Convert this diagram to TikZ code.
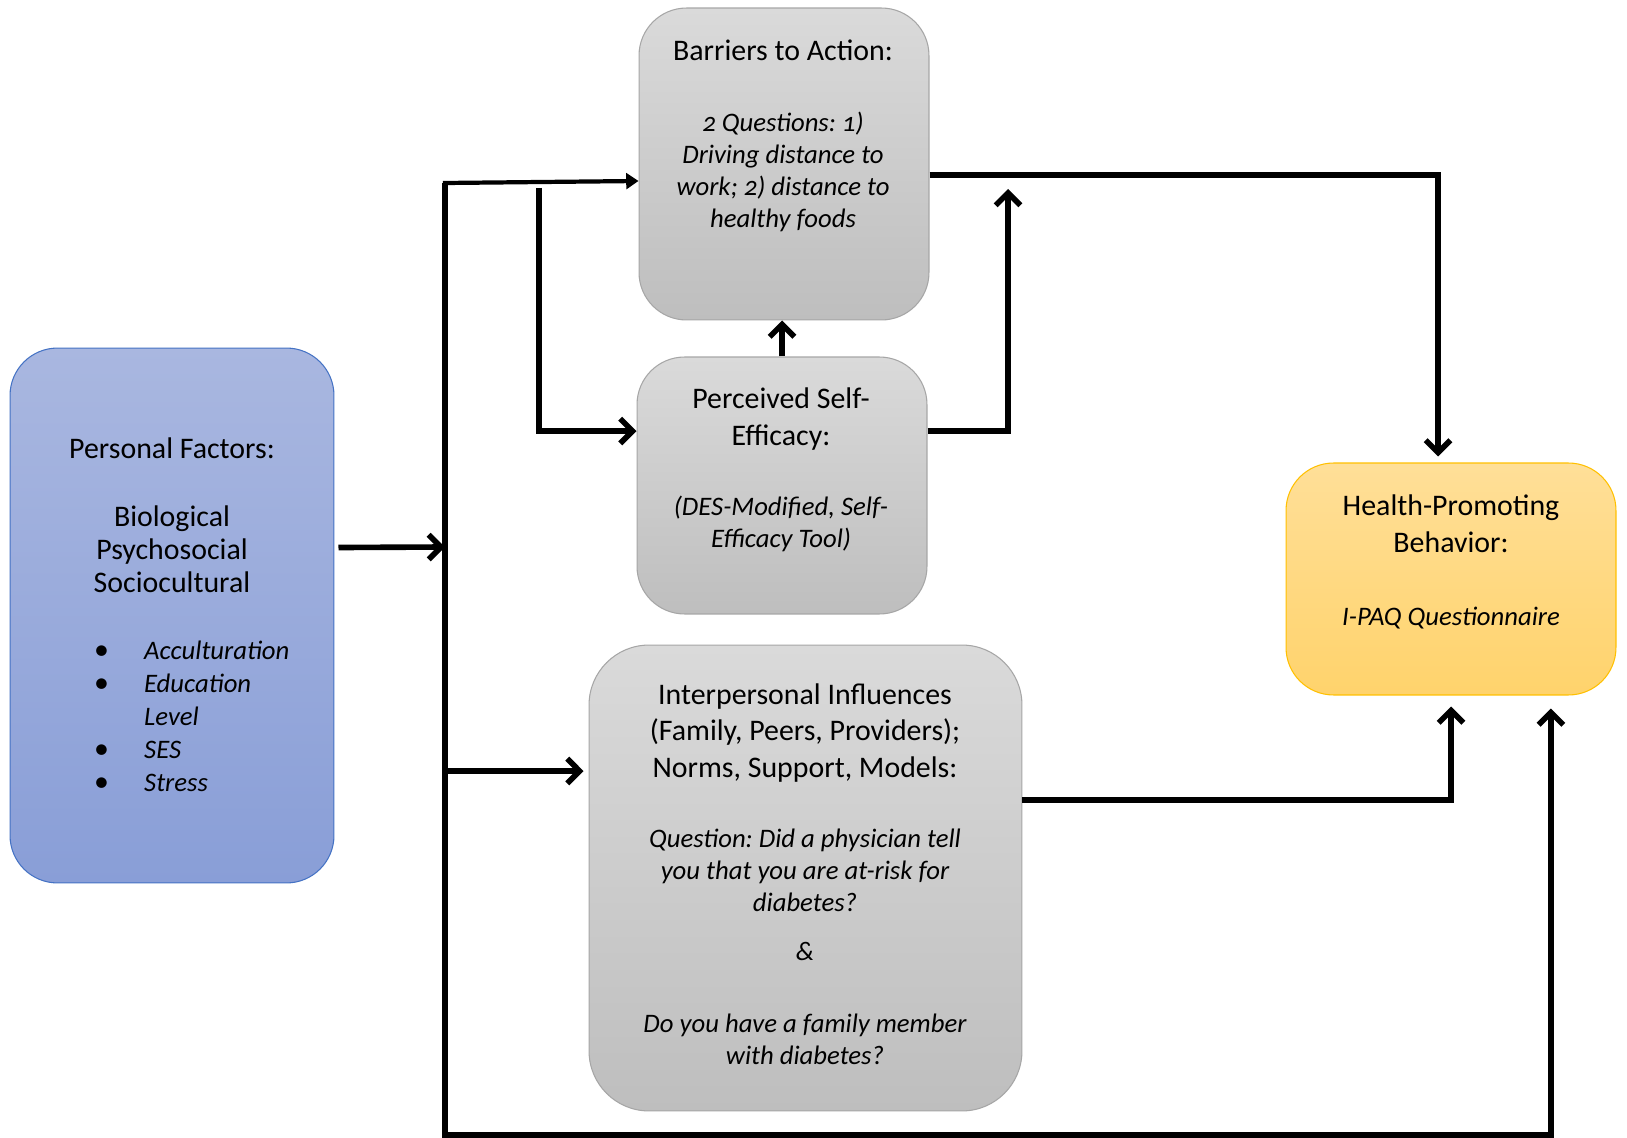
\documentclass[tikz,border=0pt]{standalone}
\usepackage{fontspec}
\setmainfont{Carlito}[Numbers=OldStyle]
\usetikzlibrary{arrows.meta,calc}

\definecolor{bluebrd}{RGB}{68,114,196}
\definecolor{bluetop}{RGB}{169,183,224}
\definecolor{bluebot}{RGB}{137,158,215}
\definecolor{graybrd}{RGB}{166,166,166}
\definecolor{graytop}{RGB}{218,218,218}
\definecolor{graybot}{RGB}{190,190,190}
\definecolor{goldbrd}{RGB}{255,192,0}
\definecolor{goldtop}{RGB}{255,223,152}
\definecolor{goldbot}{RGB}{255,211,108}

\newcommand{\itx}[1]{{\fontsize{15.2}{18.3}\selectfont\itshape #1}}

\tikzset{
  box/.style={rounded corners=0.95cm, line width=0.6pt, inner sep=0pt},
  bluebox/.style={box, draw=bluebrd, top color=bluetop, bottom color=bluebot},
  graybox/.style={box, draw=graybrd, top color=graytop, bottom color=graybot},
  goldbox/.style={box, draw=goldbrd, top color=goldtop, bottom color=goldbot},
  txt/.style={align=center, font=\fontsize{17}{18.3}\selectfont\frenchspacing},
  link/.style={line width=3.2pt, -{Straight Barb[length=7pt,width=14pt]}},
}

\begin{document}
\begin{tikzpicture}[x=0.02cm, y=-0.02cm]
    \useasboundingbox (0,0) rectangle (1627,1138);
    \fill[white] (0,0) rectangle (1627,1138);

    % Boxes
    \node[bluebox, minimum width=6.48cm, minimum height=10.7cm] (personal) at (172,615.5) {};
    \node[graybox, minimum width=5.8cm, minimum height=6.24cm] (barriers) at (784,164) {};
    \node[graybox, minimum width=5.8cm, minimum height=5.14cm] (self) at (782,485.5) {};
    \node[graybox, rounded corners=1.2cm, minimum width=8.66cm, minimum height=9.32cm] (interp) at (805.5,878) {};
    \node[goldbox, minimum width=6.6cm, minimum height=4.64cm] (health) at (1451,579) {};

    % Texts of the boxes
    \node[txt] (personalT) at (172,515.5) {Personal Factors:\\[20.5pt]Biological\\[0.5pt]Psychosocial\\[0.5pt]Sociocultural};
    \node[txt, anchor=west] (personalL) at (88,719) {\begin{tabular}{@{}p{1.0cm}@{}l@{}}
        \textbullet & \itx{Acculturation}\\[0.5pt]
        \textbullet & \itx{Education}\\[0.5pt]
                    & \itx{Level}\\[0.5pt]
        \textbullet & \itx{SES}\\[0.5pt]
        \textbullet & \itx{Stress}
      \end{tabular}};
    \node[txt] (barriersT) at (783,136) {Barriers to Action:\\[22pt]\itx{2 Questions: 1)}\\\itx{Driving distance to}\\\itx{work; 2) distance to}\\\itx{healthy foods}};
    \node[txt] (selfT) at (781,470) {Perceived Self-\\[2.7pt]Efficacy:\\[21.5pt]\itx{(DES-Modified, Self-}\\\itx{Efficacy Tool)}};
    \node[txt] (interpT) at (805,874) {Interpersonal Influences\\[2.5pt](Family, Peers, Providers);\\[2.5pt]Norms, Support, Models:\\[21.5pt]\itx{Question: Did a physician tell}\\\itx{you that you are at-risk for}\\\itx{diabetes?}\\[9.5pt]\itx{\&}\\[22.5pt]\itx{Do you have a family member}\\\itx{with diabetes?}};
    \node[txt] (healthT) at (1451,562) {Health-Promoting\\[2.5pt]Behavior:\\[23.5pt]\itx{I-PAQ Questionnaire}};

    % Corners of the connectors
    \coordinate (busTop) at (445,183);
    \coordinate (busBot) at (445,1135);
    \coordinate (busMid) at (445,547);
    \coordinate (busLow) at (445,771);
    \coordinate (innerTop) at (539,188);
    \coordinate (riseTop) at (1008,189);

    % Connectors
    \draw[link] (busTop) -- (busBot) -| ([xshift=2cm, yshift=-0.26cm]health.south);
    \draw[line width=2.4pt, line cap=rect, -{Triangle[length=7pt,width=9pt]}] (busTop) -- ([yshift=-0.34cm]barriers.west);
    \draw[link] ([xshift=0.08cm, yshift=1.36cm]personal.east) -- (busMid);
    \draw[link] (innerTop) |- ([yshift=1.09cm]self.west);
    \draw[link] (busLow) -- ([xshift=-0.1cm, yshift=2.14cm]interp.west);
    \draw[link] (self.north) -- (self.north |- barriers.south);
    \draw[link] ([yshift=1.09cm]self.east) -| (riseTop);
    \draw[link] ([yshift=-0.22cm]barriers.east) -| ([xshift=-0.26cm, yshift=0.12cm]health.north);
    \draw[link] ([yshift=1.56cm]interp.east) -| ([yshift=-0.22cm]health.south);
\end{tikzpicture}
\end{document}
